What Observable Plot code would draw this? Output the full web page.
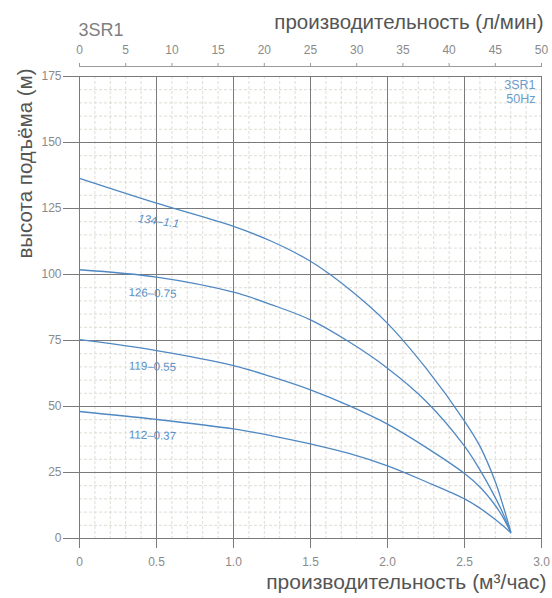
<!DOCTYPE html>
<html>
<head>
<meta charset="utf-8">
<script src="https://cdn.jsdelivr.net/npm/d3@7"></script>
<script src="https://cdn.jsdelivr.net/npm/@observablehq/plot@0.6"></script>
<style>
  html, body { margin: 0; padding: 0; background: #fff; }
  #chart svg { display: block; }
</style>
</head>
<body>
<div id="chart"></div>
<script>
// ---- data ----
const flowM3h = [0, 0.5, 1.0, 1.25, 1.5, 1.75, 2.0, 2.25, 2.5, 2.6, 2.7, 2.75, 2.8];
const head_134_11  = [136.4, 127.0, 118.2, 112.5, 105.0, 94.5, 81.5, 64.5, 44.5, 35.0, 21.5, 12.5, 2.6];
const head_126_075 = [101.8, 99.0, 93.3, 88.5, 82.8, 74.5, 64.5, 52.0, 35.0, 26.0, 15.5, 9.5, 2.4];
const head_119_055 = [75.3, 71.2, 65.5, 61.2, 56.3, 50.3, 43.3, 34.5, 24.6, 19.5, 12.5, 8.0, 2.4];
const head_112_037 = [48.1, 45.1, 41.5, 38.9, 35.8, 32.2, 27.5, 21.5, 15.0, 11.5, 7.2, 4.8, 2.2];
const seriesNames = ["134–1.1", "126–0.75", "119–0.55", "112–0.37"];
const seriesHeads = [head_134_11, head_126_075, head_119_055, head_112_037];

const yTickLabels = [0, 25, 50, 75, 100, 125, 150, 175];
const xTickLabels = [0, 0.5, 1.0, 1.5, 2.0, 2.5, 3.0];
const topTickLabelsLmin = [0, 5, 10, 15, 20, 25, 30, 35, 40, 45, 50];
const M3H_PER_LMIN = 0.06;

const titleTop = "производительность (л/мин)";
const titleBottom = "производительность (м³/час)";
const titleY = "высота подъёма (м)";
const modelName = "3SR1";
const legendText = "3SR1\n50Hz";

// ---- build table ----
const rows = [];
seriesNames.forEach((name, s) => {
  flowM3h.forEach((q, i) => rows.push({series: name, q, h: seriesHeads[s][i]}));
});
const labelRows = rows.filter(d => d.q === 0.5);

const minorX = d3.range(1, 30).map(i => i / 10).filter(v => Math.abs(v * 2 - Math.round(v * 2)) > 1e-6);
const minorY = d3.range(0, 176, 5).filter(v => v % 25 !== 0);

const curveColor = "#4f88c2";
const labelColor = "#5a8fc4";
const gridMajor = "#7a7a7a";
const gridMinor = "#dedcd4";
const textGray = "#7f7f7f";

const chart = Plot.plot({
  width: 552,
  height: 598,
  marginTop: 76,
  marginBottom: 60,
  marginLeft: 79,
  marginRight: 11,
  style: {fontFamily: "'Liberation Sans', Arial, sans-serif", background: "#fff", color: textGray},
  x: {domain: [0, 3]},
  y: {domain: [0, 175]},
  marks: [
    Plot.ruleX(minorX, {stroke: gridMinor, strokeDasharray: "3,2"}),
    Plot.ruleY(minorY, {stroke: gridMinor, strokeDasharray: "3,2"}),
    Plot.ruleX(xTickLabels, {stroke: gridMajor, strokeWidth: 1}),
    Plot.ruleY(yTickLabels, {stroke: gridMajor, strokeWidth: 1}),
    // bottom axis
    Plot.axisX(xTickLabels, {anchor: "bottom", tickSize: 10, tickPadding: 9, fontSize: 12,
      stroke: gridMajor, fill: "#8a8a8a",
      tickFormat: d => d === 0 ? "0" : d.toFixed(1), label: null}),
    // left axis
    Plot.axisY(yTickLabels, {anchor: "left", tickSize: 16, tickPadding: 2, fontSize: 12,
      stroke: gridMajor, fill: "#8a8a8a", label: null}),
    // top axis (l/min)
    Plot.ruleY([175], {dy: -10, stroke: "#9a9a9a"}),
    Plot.axisX(topTickLabelsLmin.map(v => v * M3H_PER_LMIN), {anchor: "top", tickSize: 4, tickPadding: 9,
      dy: -10, fontSize: 12, stroke: "#9a9a9a", fill: "#8a8a8a",
      tickFormat: d => String(Math.round(d / M3H_PER_LMIN)), label: null}),
    // curves
    Plot.line(rows, {x: "q", y: "h", z: "series", stroke: curveColor, strokeWidth: 1.3, curve: "catmull-rom"}),
    // curve labels
    Plot.text(labelRows.filter(d => d.series === seriesNames[0]), {x: "q", y: "h", text: "series",
      dy: 18, dx: 2, rotate: 8, fill: labelColor, fontSize: 11.5, fontStyle: "italic"}),
    Plot.text(labelRows.filter(d => d.series !== seriesNames[0]), {x: "q", y: "h", text: "series",
      dy: 16, dx: -4, rotate: 2, fill: labelColor, fontSize: 11.5}),
    // legend top-right
    Plot.text([legendText], {frameAnchor: "top-right", dx: -6, dy: 3, lineAnchor: "top",
      fill: "#6a9ccc", fontSize: 12.5, lineHeight: 1.12}),
    // titles
    Plot.text([titleTop], {frameAnchor: "top-right", dx: 2, dy: -54, lineAnchor: "middle",
      fill: "#555", fontSize: 20.5}),
    Plot.text([modelName], {frameAnchor: "top-left", dx: -1, dy: -46, lineAnchor: "middle",
      textAnchor: "start", fill: "#808080", fontSize: 18}),
    Plot.text([titleBottom], {frameAnchor: "bottom-right", dx: 5, dy: 44, lineAnchor: "middle",
      fill: "#555", fontSize: 21}),
    Plot.text([titleY], {frameAnchor: "left", dx: -54, dy: -144, rotate: -90, lineAnchor: "middle",
      textAnchor: "middle", fill: "#555", fontSize: 20.5})
  ]
});
document.getElementById("chart").appendChild(chart);
</script>
</body>
</html>
